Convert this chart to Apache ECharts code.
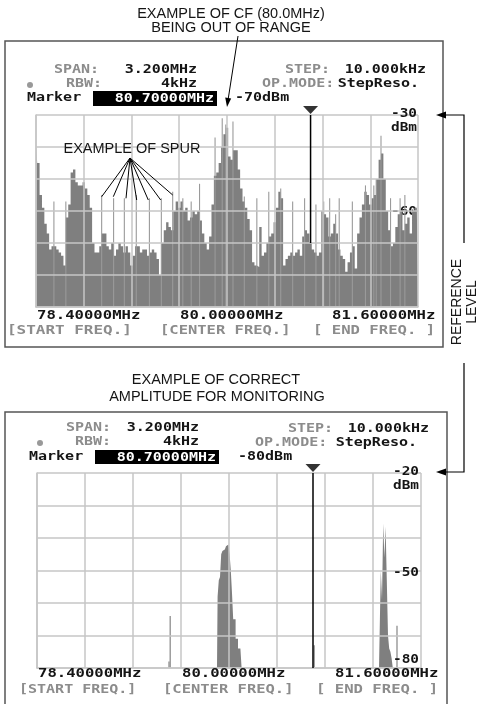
<!DOCTYPE html>
<html><head><meta charset="utf-8">
<script src="https://cdn.jsdelivr.net/npm/echarts@6/dist/echarts.min.js"></script>
<style>html,body{margin:0;padding:0;background:#fff}#c{width:482px;height:704px}</style>
</head><body><div id="c"></div>
<script>
// ---------------- DATA ----------------
const FREQ_MIN = 78.4, FREQ_MAX = 81.6, FREQ_DIV = 0.4;
const topStepMHz = 0.02;
const topRef = -30, topFloor = -90;
const botRef = -20, botFloor = -80;
// top panel trace, one value per 20 kHz from 78.40 MHz (dBm)
const topLevels = [
  -39,-45,-55,-59,-64,-67,-72,-71,-71,-72,-73,-74,-77,-62,-58,-48,-47,-51,-52,-52,-51,
  -53,-55,-59,-70,-73,-73,-71,-67,-67,-71,-72,-70,-74,-72,-70,-71,-73,-71,-73,-77,
  -74,-71,-71,-73,-72,-72,-74,-73,-72,-73,-75,-80,-70,-66,-63.5,-65,-66,-60,-57,-59,
  -57,-60,-59,-63,-62,-60,-61,-60,-63,-67,-70,-72,-68,-58,-49,-48,-45,-40,-36,-34,
  -43,-44,-41,-41,-47,-53,-57,-59,-62.5,-66,-76,-77,-77.5,-65,-74,-73,-70,-68,-67,-63.5,
  -59,-54,-56,-77,-75,-74,-73,-74,-73,-72,-74,-68,-66,-67,-70,-72,-73,-74,-73,-60,
  -61,-62,-68,-67,-64,-67,-72,-74,-75,-79,-76,-73,-71,-78,-67,-62,-58,-54,-55,-58,
  -56,-55,-50,-44,-42,-50,-60,-66,-71,-70,-65,-61,-60,-66,-64,-62,-67,-60,-59,-58
];
// top panel spurs
const topSpurFreqs  = [78.55,78.65,78.95,79.05,79.14,79.24,79.35,79.45,79.545,79.63,79.70,79.77,79.90,79.96,79.99,80.05,80.145,80.25,80.35,80.45,80.55,80.65,80.745,80.81,80.86,80.91,80.94,81.05,81.16,81.23,81.25,81.29,81.37,81.45,81.49];
const topSpurLevels = [-57,-57,-55,-56,-56,-55,-56,-56,-54,-56,-57,-51.5,-37,-31,-33,-32,-55.5,-56,-54,-53,-57,-56,-58,-57,-56,-61,-56,-57,-52,-52,-50,-36.5,-56,-56,-55];
// bottom panel signals
const botPeakFreqs  = [79.90,79.91,79.92,79.93,79.94,79.95,79.96,79.97,79.98,79.99,80.00,80.01,80.02,80.03,80.04,80.05,80.06,80.07,80.08,80.09,80.10,80.11,
                       81.25,81.26,81.27,81.28,81.29,81.30,81.31,81.32,81.33,81.34,81.35,81.36,81.37];
const botPeakLevels = [-80,-58,-53,-52,-45,-44,-43.5,-43,-42.5,-42,-41.5,-45,-50,-57,-65,-65,-71,-71,-74,-74,-74,-80,
                       -80,-70,-50,-59,-35.5,-46,-36.5,-53,-70,-74,-75,-77,-80];
const botSpurFreqs  = [79.50,79.51,80.71,81.40];
const botSpurLevels = [-78,-64,-73,-67];
// marker
const markerFreq = 80.7;
const topMarkerLevel = -70;
const botMarkerLevel = -80;
// labels
const freqLabels = ['78.40000MHz','80.00000MHz','81.60000MHz'];
const freqCaptions = ['[START FREQ.]','[CENTER FREQ.]','[ END FREQ. ]'];
const topYLabels = ['-30','-60'];
const botYLabels = ['-20','-50','-80'];

// ---------------- CHART ----------------
const chart = echarts.init(document.getElementById('c'), null, {renderer:'canvas'});
const mono = '"DejaVu Sans Mono","Liberation Mono",monospace';
const sans = '"Liberation Sans",Arial,sans-serif';
const gridColor = '#c6c6c6';
const fillColor = '#7f7f7f';
const grayTxt = '#8c8c8c';

function txt(x, y, text, o) {
  o = o || {};
  const align = o.align || 'left';
  return { type:'text', x:x, y:y, scaleX: o.sx || 1.25, rotation: o.rot || 0, z: (o.z == null ? 100 : o.z),
    style: { text:text, x:0, y:0, fill: o.color || '#151515', font: o.font || ('bold 12px ' + mono),
      textAlign: align, textVerticalAlign:'middle', align: align, verticalAlign:'middle' } };
}
function line(points, w) {
  return { type:'polyline', z:100, shape:{ points: points }, style:{ stroke:'#000', lineWidth: w || 1, fill:null } };
}
function poly(points) {
  return { type:'polygon', z:100, shape:{ points: points }, style:{ fill:'#000' } };
}
function rect(x, y, w, h, style) {
  return { type:'rect', z:99, shape:{x:x, y:y, width:w, height:h}, style: style };
}

function axisX(i) {
  return { type:'value', gridIndex:i, min:FREQ_MIN, max:FREQ_MAX, interval:FREQ_DIV, z:6,
    axisLabel:{show:false}, axisTick:{show:false},
    axisLine:{show:true, onZero:false, lineStyle:{color:gridColor, width:1.5}},
    splitLine:{show:true, showMinLine:true, showMaxLine:true, lineStyle:{color:gridColor, width:1.5}} };
}
function axisY(i, min, max) {
  return { type:'value', gridIndex:i, min:min, max:max, interval:10, z:6,
    axisLabel:{show:false}, axisTick:{show:false},
    axisLine:{show:true, onZero:false, lineStyle:{color:gridColor, width:1.5}},
    splitLine:{show:true, showMinLine:true, showMaxLine:true, lineStyle:{color:gridColor, width:1.5}} };
}
function spurSeries(xi, floor, freqs, levels, w, color) {
  return { type:'custom', xAxisIndex:xi, yAxisIndex:xi, z:3, silent:true,
    data: freqs.map((f, k) => [f, levels[k]]),
    renderItem: function (params, api) {
      const p = api.coord([api.value(0), api.value(1)]);
      const b = api.coord([api.value(0), floor]);
      return { type:'rect', shape:{ x:p[0] - w / 2, y:p[1], width:w, height:b[1] - p[1] }, style:{ fill:color } };
    } };
}
function areaSeries(xi, data) {
  return { type:'line', xAxisIndex:xi, yAxisIndex:xi, step:'middle', symbol:'none', z:2, silent:true,
    data: data, lineStyle:{ width:0, opacity:0 },
    areaStyle:{ color:fillColor, opacity:1, origin:'start' } };
}
function markerSeries(xi, ref, level) {
  return [
    { type:'line', xAxisIndex:xi, yAxisIndex:xi, symbol:'none', z:8, silent:true,
      data:[[markerFreq, ref],[markerFreq, level]], lineStyle:{ color:'#000', width:1.5 } },
    { type:'scatter', xAxisIndex:xi, yAxisIndex:xi, z:9, silent:true, clip:false,
      data:[[markerFreq, ref]], symbol:'triangle', symbolRotate:180, symbolSize:[15,8], symbolOffset:[0,-5],
      itemStyle:{ color:'#000' } }
  ];
}

const topData = topLevels.map((v, i) => [+(FREQ_MIN + i * topStepMHz).toFixed(2), v]);
const botData = botPeakFreqs.map((f, i) => [f, botPeakLevels[i]]);

// ---- panel text / annotation graphics ----
const G = [];
// boxes
G.push({ type:'rect', z:1, shape:{x:5, y:41, width:438, height:306}, style:{fill:null, stroke:'#555', lineWidth:1.5} });
G.push({ type:'rect', z:1, shape:{x:5, y:412, width:442, height:295}, style:{fill:null, stroke:'#555', lineWidth:1.5} });

// top panel header
G.push(txt(54, 70, 'SPAN:', {color:grayTxt}));
G.push(txt(197, 70, '3.200MHz', {align:'right'}));
G.push({ type:'circle', z:100, shape:{cx:30, cy:85, r:3}, style:{fill:'#999'} });
G.push(txt(66, 84, 'RBW:', {color:grayTxt}));
G.push(txt(197, 84, '4kHz', {align:'right'}));
G.push(txt(285, 70, 'STEP:', {color:grayTxt}));
G.push(txt(426, 70, '10.000kHz', {align:'right'}));
G.push(txt(262, 84, 'OP.MODE:', {color:grayTxt}));
G.push(txt(419, 84, 'StepReso.', {align:'right'}));
G.push(txt(27, 98, 'Marker'));
G.push(rect(93, 91, 124, 15, {fill:'#000'}));
G.push(txt(214, 98.5, markerFreq.toFixed(5) + 'MHz', {align:'right', color:'#fff'}));
G.push(txt(235, 98, topMarkerLevel + 'dBm'));
G.push(txt(417, 114, topYLabels[0], {align:'right', sx:1.2}));
G.push(txt(417, 128, 'dBm', {align:'right', sx:1.2}));
G.push(txt(417, 212, topYLabels[1], {align:'right', sx:1.2, z:1}));
// top panel footer
G.push(txt(37, 316, freqLabels[0], {sx:1.3}));
G.push(txt(180, 316, freqLabels[1], {sx:1.3}));
G.push(txt(332, 316, freqLabels[2], {sx:1.3}));
G.push(txt(7, 331, freqCaptions[0], {sx:1.33, color:grayTxt}));
G.push(txt(160, 331, freqCaptions[1], {sx:1.29, color:grayTxt}));
G.push(txt(313, 331, freqCaptions[2], {sx:1.3, color:grayTxt}));

// bottom panel header
G.push(txt(66, 428, 'SPAN:', {color:grayTxt}));
G.push(txt(199, 428, '3.200MHz', {align:'right'}));
G.push({ type:'circle', z:100, shape:{cx:40, cy:443, r:3}, style:{fill:'#999'} });
G.push(txt(75, 442, 'RBW:', {color:grayTxt}));
G.push(txt(199, 442, '4kHz', {align:'right'}));
G.push(txt(288, 429, 'STEP:', {color:grayTxt}));
G.push(txt(429, 429, '10.000kHz', {align:'right'}));
G.push(txt(255, 443, 'OP.MODE:', {color:grayTxt}));
G.push(txt(417, 443, 'StepReso.', {align:'right'}));
G.push(txt(29, 457, 'Marker'));
G.push(rect(95, 450, 124, 14, {fill:'#000'}));
G.push(txt(216, 457.5, markerFreq.toFixed(5) + 'MHz', {align:'right', color:'#fff'}));
G.push(txt(238, 457, botMarkerLevel + 'dBm'));
G.push(txt(419, 472, botYLabels[0], {align:'right', sx:1.2}));
G.push(txt(419, 486, 'dBm', {align:'right', sx:1.2}));
G.push(txt(419, 573, botYLabels[1], {align:'right', sx:1.2}));
G.push(txt(419, 660, botYLabels[2], {align:'right', sx:1.2}));
// bottom panel footer
G.push(txt(38, 674, freqLabels[0], {sx:1.3}));
G.push(txt(182, 674, freqLabels[1], {sx:1.3}));
G.push(txt(335, 674, freqLabels[2], {sx:1.3}));
G.push(txt(19, 690, freqCaptions[0], {sx:1.25, color:grayTxt}));
G.push(txt(163, 690, freqCaptions[1], {sx:1.29, color:grayTxt}));
G.push(txt(316, 690, freqCaptions[2], {sx:1.3, color:grayTxt}));

// annotations
const annFont = '14.5px ' + sans;
G.push(txt(231, 14, 'EXAMPLE OF CF (80.0MHz)', {align:'center', sx:1, font:annFont}));
G.push(txt(231, 28, 'BEING OUT OF RANGE', {align:'center', sx:1, font:annFont}));
G.push(line([[238,36],[228.2,99]], 1));
G.push(poly([[227,107],[231.2,98.6],[225.2,97.6]]));
G.push(txt(132, 149, 'EXAMPLE OF SPUR', {align:'center', sx:1, font:annFont}));
const apex = [130, 158];
[[101.7,196.7],[113.3,196.7],[126,198.3],[136.7,200],[148.3,200],[160.7,200],[172.7,195]].forEach(p => G.push(line([apex, p], 1)));
G.push(txt(216, 380, 'EXAMPLE OF CORRECT', {align:'center', sx:1, font:annFont}));
G.push(txt(217, 397, 'AMPLITUDE FOR MONITORING', {align:'center', sx:1, font:annFont}));
// reference level arrows
G.push(line([[464,243],[464,115],[445,115]], 1.2));
G.push(poly([[436,115],[446,111.5],[446,118.5]]));
G.push(line([[464,363],[464,472],[445,472]], 1.2));
G.push(poly([[436,472],[446,468.5],[446,475.5]]));
G.push(txt(457, 302, 'REFERENCE', {align:'center', sx:1, rot:Math.PI/2, font:'14px ' + sans}));
G.push(txt(472, 302, 'LEVEL', {align:'center', sx:1, rot:Math.PI/2, font:'14px ' + sans}));

const option = {
  animation:false,
  backgroundColor:'#fff',
  grid:[
    { left:36, top:115, width:382, height:192, containLabel:false, outerBoundsMode:'none' },
    { left:37, top:473, width:384, height:195, containLabel:false, outerBoundsMode:'none' }
  ],
  xAxis:[ axisX(0), axisX(1) ],
  yAxis:[ axisY(0, topFloor, topRef), axisY(1, botFloor, botRef) ],
  series:[
    areaSeries(0, topData),
    spurSeries(0, topFloor, topSpurFreqs, topSpurLevels, 1.1, '#9a9a9a'),
    ...markerSeries(0, topRef, topMarkerLevel),
    areaSeries(1, botData),
    spurSeries(1, botFloor, botSpurFreqs, botSpurLevels, 1.3, '#8e8e8e'),
    ...markerSeries(1, botRef, botMarkerLevel)
  ],
  graphic:{ elements: G }
};
chart.setOption(option);
</script>
</body></html>
